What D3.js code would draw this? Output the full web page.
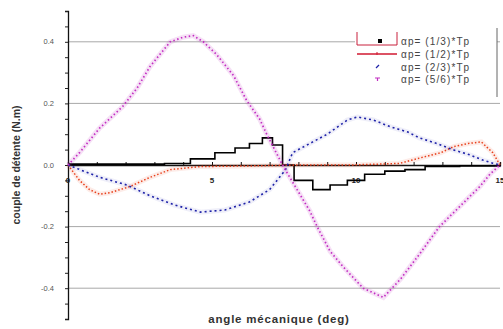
<!DOCTYPE html>
<html><head><meta charset="utf-8">
<script src="https://cdn.jsdelivr.net/npm/d3@7"></script>
<style>body{margin:0;background:#fff}svg{display:block}</style>
</head><body><svg id="c" width="503" height="329"></svg>
<script>
const legendLabels = ["αp= (1/3)*Tp","αp= (1/2)*Tp","αp= (2/3)*Tp","αp= (5/6)*Tp"];
const yTickLabels = ["0.4","0.2","0.0","-0.2","-0.4"];
const xTickLabels = ["0","5","10","15"];

const blackX = [0,1.8,3.35,4.25,5.1,5.8,6.3,6.75,7.1,7.45,7.85,8.5,9.1,9.7,10.3,11.0,11.7,12.4,13.6,15];
const blackY = [0.003,0.003,0.005,0.02,0.04,0.055,0.07,0.088,0.065,0,-0.05,-0.08,-0.065,-0.05,-0.03,-0.02,-0.015,-0.005,-0.003,0];
const redX = [0,0.4,0.75,1.1,1.45,2.15,2.85,3.55,4.6,6.3,8.05,9.8,11.5,12.35,12.95,13.4,13.9,14.35,14.75,15];
const redY = [0,-0.05,-0.08,-0.095,-0.09,-0.07,-0.04,-0.015,-0.005,-0.003,0,0,0.005,0.026,0.04,0.06,0.07,0.075,0.04,0];
const blueX = [0,1.1,2.05,2.85,3.7,4.6,5.45,6.3,7.0,7.55,7.8,8.5,9.0,9.7,10.05,10.6,11.2,11.8,12.2,12.8,13.35,13.95,14.4,14.75,15];
const blueY = [0,-0.04,-0.065,-0.1,-0.13,-0.153,-0.146,-0.12,-0.08,-0.016,0.04,0.075,0.10,0.146,0.156,0.146,0.124,0.107,0.088,0.07,0.05,0.033,0.016,0.006,0];
const magX = [0,0.4,1.1,1.9,2.4,2.85,3.2,3.55,4.0,4.35,4.7,5.15,5.75,6.2,6.65,6.9,7.45,7.7,8.4,8.65,9.1,9.55,10.25,10.95,11.55,12.2,12.9,13.6,14.3,14.65,15];
const magY = [0,0.04,0.12,0.19,0.25,0.32,0.36,0.40,0.415,0.42,0.40,0.36,0.29,0.21,0.15,0.10,0.0,-0.04,-0.15,-0.2,-0.28,-0.33,-0.40,-0.43,-0.37,-0.29,-0.2,-0.135,-0.07,-0.03,0];

const svg = d3.select("#c");
const x = d3.scaleLinear().domain([0,15]).range([68,500]);
const y = d3.scaleLinear().domain([-0.5,0.5]).range([319,11]);
const FONT = "Liberation Sans, Arial, sans-serif";

// gridlines
const gridVals = [0.4,0.2,-0.2,-0.4];
svg.append("g").selectAll("line").data(gridVals).join("line")
  .attr("x1",x(0)).attr("x2",x(15))
  .attr("y1",d=>y(d)).attr("y2",d=>y(d))
  .attr("stroke","#a8a8a8").attr("stroke-width",1);

// y axis
const yAxis = d3.axisLeft(y).tickValues(d3.range(-10,11).map(i=>i*0.05)).tickSize(3).tickFormat("");
const gy = svg.append("g").attr("transform",`translate(${x(0)},0)`).call(yAxis);
gy.select(".domain").attr("stroke","#111").attr("stroke-width",1.3);
gy.selectAll(".tick line").attr("stroke","#222");
svg.append("g").selectAll("text").data(yTickLabels).join("text")
  .attr("x",54).attr("y",d=>y(+d)+2.5).attr("text-anchor","end")
  .attr("font-family",FONT).attr("font-size",7.5)
  .attr("fill","#555").text(d=>d);

// x axis at y=0
const xAxis = d3.axisTop(x).tickValues(d3.range(0,16,1)).tickSize(3).tickFormat("");
const gx = svg.append("g").attr("transform",`translate(0,${y(0)})`).call(xAxis);
gx.select(".domain").attr("stroke","#111").attr("stroke-width",1.3);
gx.selectAll(".tick line").attr("stroke","#111");
svg.append("g").selectAll("text").data(xTickLabels).join("text")
  .attr("x",d=>x(+d)).attr("y",y(0)+18).attr("text-anchor","middle")
  .attr("font-family",FONT).attr("font-size",8).attr("font-weight","bold")
  .attr("fill","#222").text(d=>d);

// series
const series = [
  {xs:blackX, ys:blackY, color:"#000", dash:null, w:1.6, curve:d3.curveStepAfter, halo:0},
  {xs:redX, ys:redY, color:"#e8401c", dash:"1.5,2", w:1.5, curve:d3.curveLinear, halo:0.1},
  {xs:blueX, ys:blueY, color:"#1e22a8", dash:"2,3", w:1.6, curve:d3.curveLinear, halo:0.07},
  {xs:magX, ys:magY, color:"#c22ec2", dash:"1.5,2.5", w:1.7, curve:d3.curveLinear, halo:0.14}
];
series.forEach(s=>{
  const pts = s.xs.map((v,i)=>[v,s.ys[i]]);
  const line = d3.line().x(d=>x(d[0])).y(d=>y(d[1])).curve(s.curve);
  if(s.halo){
    svg.append("path").attr("d",line(pts)).attr("fill","none")
      .attr("stroke",s.color).attr("stroke-opacity",s.halo).attr("stroke-width",5);
  }
  const p = svg.append("path").attr("d",line(pts)).attr("fill","none")
    .attr("stroke",s.color).attr("stroke-width",s.w);
  if(s.dash) p.attr("stroke-dasharray",s.dash);
});

// legend
const lg = svg.append("g");
const rowsY = [41,54,67,79];
lg.append("rect").attr("x",355).attr("y",28).attr("width",142).attr("height",69).attr("fill","#fff");
lg.append("line").attr("x1",497).attr("x2",497).attr("y1",28).attr("y2",97).attr("stroke","#666").attr("stroke-width",1);
lg.append("path").attr("d","M357,32 V45 H397 V32").attr("fill","none").attr("stroke","#c8203c").attr("stroke-width",1);
lg.append("rect").attr("x",378).attr("y",rowsY[0]-2).attr("width",4).attr("height",4).attr("fill","#000");
lg.append("line").attr("x1",357).attr("x2",397).attr("y1",rowsY[1]).attr("y2",rowsY[1]).attr("stroke","#d01830").attr("stroke-width",1.3);
lg.append("line").attr("x1",377).attr("x2",377).attr("y1",rowsY[1]-2).attr("y2",rowsY[1]+1).attr("stroke","#d01830").attr("stroke-width",1);
lg.append("path").attr("d",`M376,${rowsY[2]+1} L379,${rowsY[2]-2}`).attr("stroke","#1e22a8").attr("stroke-width",1.2);
lg.append("path").attr("d",`M375,${rowsY[3]-1} H380 M377.5,${rowsY[3]-1} V${rowsY[3]+2}`).attr("stroke","#c22ec2").attr("stroke-width",1.2);
lg.selectAll("text").data(legendLabels).join("text")
  .attr("x",401).attr("y",(d,i)=>rowsY[i]+3.5)
  .attr("font-family",FONT).attr("font-size",10).attr("letter-spacing",1.1)
  .attr("fill","#444").text(d=>d);

// axis titles
svg.append("text").attr("transform",`translate(20,${y(0)}) rotate(-90)`)
  .attr("text-anchor","middle").attr("font-family",FONT)
  .attr("font-size",10.5).attr("font-weight","bold").attr("fill","#333")
  .text("couple de détente (N.m)");
svg.append("text").attr("x",279).attr("y",323).attr("text-anchor","middle")
  .attr("font-family",FONT).attr("letter-spacing",0.8)
  .attr("font-size",11.5).attr("font-weight","bold").attr("fill","#333")
  .text("angle mécanique (deg)");
</script></body></html>
